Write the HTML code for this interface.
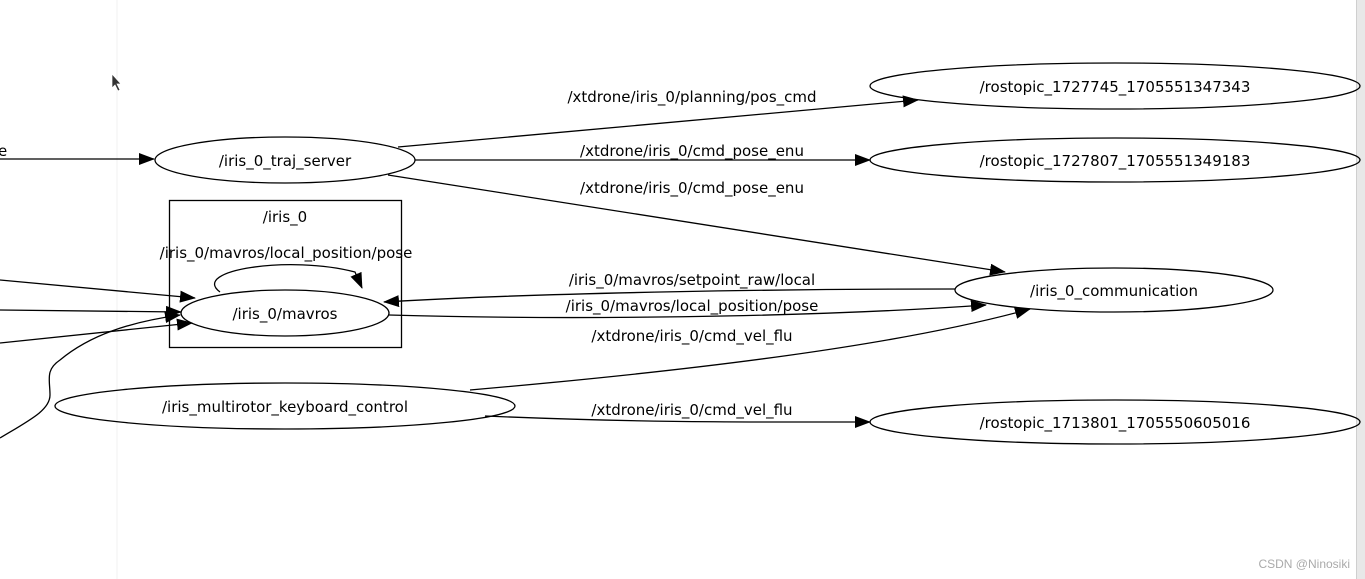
<!DOCTYPE html>
<html><head><meta charset="utf-8"><style>
html,body{margin:0;padding:0;background:#fff;width:1365px;height:579px;overflow:hidden}
svg{display:block}
text{font-family:"DejaVu Sans","Liberation Sans",sans-serif;font-size:15px;fill:#000}
</style></head><body>
<svg width="1365" height="579" viewBox="0 0 1365 579">
<defs><marker id="a" markerWidth="16" markerHeight="12" refX="15" refY="6" orient="auto" markerUnits="userSpaceOnUse"><path d="M0,0 L16,6 L0,12 z" fill="#000"/></marker></defs>
<line x1="117" y1="0" x2="117" y2="579" stroke="#f2f2f2" stroke-width="1"/>
<rect x="1357" y="0" width="8" height="579" fill="#e8e8e8"/>
<line x1="1356.5" y1="0" x2="1356.5" y2="579" stroke="#cfcfcf"/>
<g fill="none" stroke="#000" stroke-width="1.3">
<ellipse cx="285" cy="160" rx="130" ry="23"/>
<ellipse cx="1115" cy="86" rx="245" ry="23"/>
<ellipse cx="1115" cy="160" rx="245" ry="22"/>
<ellipse cx="1114" cy="290" rx="159" ry="22"/>
<ellipse cx="285" cy="313" rx="104" ry="23"/>
<ellipse cx="285" cy="406" rx="230" ry="23"/>
<ellipse cx="1115" cy="422" rx="245" ry="22"/>
<rect x="169.5" y="200.5" width="232" height="147"/>
<line x1="0" y1="159" x2="154" y2="159" marker-end="url(#a)"/>
<path d="M398,147 L918,100" marker-end="url(#a)"/>
<path d="M415,160 L870,160" marker-end="url(#a)"/>
<path d="M388,175 L1005,272" marker-end="url(#a)"/>
<path d="M955,289 C800,289 550,292 384,302" marker-end="url(#a)"/>
<path d="M389,315 C560,320 800,318 986,305" marker-end="url(#a)"/>
<path d="M470,390 C700,370 900,345 1030,309" marker-end="url(#a)"/>
<path d="M485,416 C650,423 750,422 870,422" marker-end="url(#a)"/>
<path d="M220,292 C190,270 290,255 355,272 L362,288" marker-end="url(#a)"/>
<path d="M0,280 L195,298" marker-end="url(#a)"/>
<path d="M0,310 L181,312" marker-end="url(#a)"/>
<path d="M0,343 L192,323" marker-end="url(#a)"/>
<path d="M0,438 C30,420 50,410 50,395 C50,380 45,370 60,360 C90,335 130,322 180,315" marker-end="url(#a)"/>
</g>
<path d="M112,74 L112,88 L115,85 L118,91 L120,90 L117,84 L121,84 z" fill="#333" stroke="#fff" stroke-width="0.7"/>
<text x="-2" y="156">e</text>
<text x="285" y="166" text-anchor="middle">/iris_0_traj_server</text>
<text x="1115" y="92" text-anchor="middle">/rostopic_1727745_1705551347343</text>
<text x="1115" y="166" text-anchor="middle">/rostopic_1727807_1705551349183</text>
<text x="1114" y="296" text-anchor="middle">/iris_0_communication</text>
<text x="285" y="319" text-anchor="middle">/iris_0/mavros</text>
<text x="285" y="412" text-anchor="middle">/iris_multirotor_keyboard_control</text>
<text x="1115" y="428" text-anchor="middle">/rostopic_1713801_1705550605016</text>
<text x="285" y="222" text-anchor="middle">/iris_0</text>
<text x="286" y="258" text-anchor="middle">/iris_0/mavros/local_position/pose</text>
<text x="692" y="102" text-anchor="middle">/xtdrone/iris_0/planning/pos_cmd</text>
<text x="692" y="156" text-anchor="middle">/xtdrone/iris_0/cmd_pose_enu</text>
<text x="692" y="193" text-anchor="middle">/xtdrone/iris_0/cmd_pose_enu</text>
<text x="692" y="285" text-anchor="middle">/iris_0/mavros/setpoint_raw/local</text>
<text x="692" y="311" text-anchor="middle">/iris_0/mavros/local_position/pose</text>
<text x="692" y="341" text-anchor="middle">/xtdrone/iris_0/cmd_vel_flu</text>
<text x="692" y="415" text-anchor="middle">/xtdrone/iris_0/cmd_vel_flu</text>
<text x="1350" y="568" text-anchor="end" style="font-size:12px;fill:#aaa;font-family:'Liberation Sans',sans-serif">CSDN @Ninosiki</text>
</svg>
</body></html>
